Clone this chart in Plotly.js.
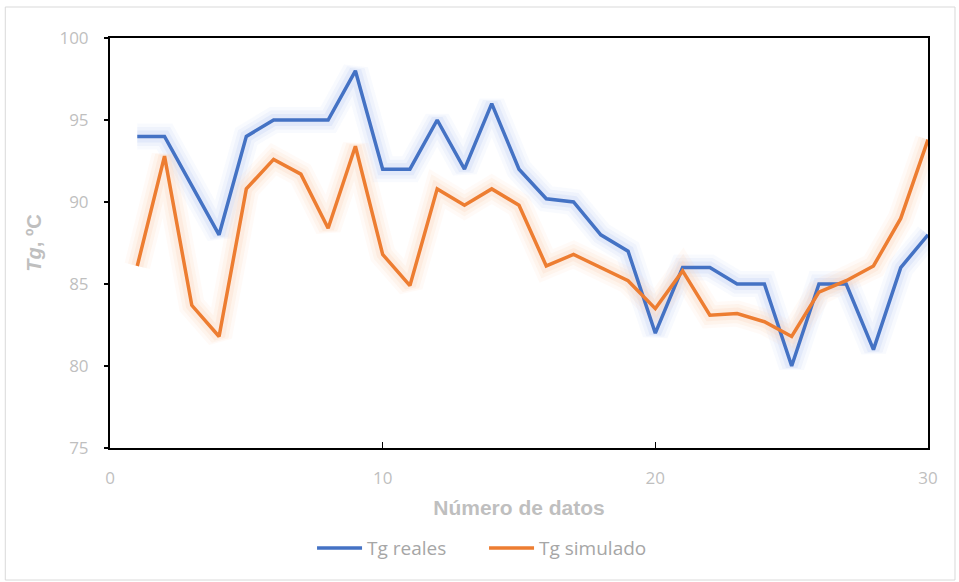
<!DOCTYPE html>
<html>
<head>
<meta charset="utf-8">
<script src="https://cdn.plot.ly/plotly-3.0.1.min.js"></script>
<style>html,body{margin:0;padding:0;background:#fff;}#chart{width:959px;height:582px;}</style>
</head>
<body>
<div id="chart"></div>
<script>
const xData = [1,2,3,4,5,6,7,8,9,10,11,12,13,14,15,16,17,18,19,20,21,22,23,24,25,26,27,28,29,30];
const tgReales = [94,94,91,88,94,95,95,95,98,92,92,95,92,96,92,90.2,90,88,87,82,86,86,85,85,80,85,85,81,86,88];
const tgSimulado = [86.1,92.8,83.7,81.8,90.8,92.6,91.7,88.4,93.4,86.8,84.9,90.8,89.8,90.8,89.8,86.1,86.8,86.0,85.2,83.5,85.8,83.1,83.2,82.7,81.8,84.5,85.2,86.1,89.0,93.8];
const seriesNames = ["Tg reales","Tg simulado"];
const xTicks = [0,10,20,30];
const yTicks = [75,80,85,90,95,100];

const blue = "#4472C4", orange = "#ED7D31";
const glow = (y, c, w, op) => ({x:xData, y:y, mode:"lines", line:{color:c, width:w}, opacity:op, showlegend:false, hoverinfo:"skip"});
const traces = [
  glow(tgReales, "#c5d5f5", 26, 0.12),
  glow(tgReales, "#c5d5f5", 19, 0.18),
  glow(tgReales, "#c5d5f5", 12, 0.3),
  glow(tgSimulado, "#fbd7bf", 26, 0.12),
  glow(tgSimulado, "#fbd7bf", 19, 0.18),
  glow(tgSimulado, "#fbd7bf", 12, 0.3),
  {x:xData, y:tgReales, name:seriesNames[0], mode:"lines", line:{color:blue, width:3.5}},
  {x:xData, y:tgSimulado, name:seriesNames[1], mode:"lines", line:{color:orange, width:3.5}}
];
const tickFont = {family:"Liberation Sans Narrow, Arial Narrow, Open Sans, sans-serif", size:17, color:"#bfbfbf"};
const layout = {
  width:959, height:582,
  margin:{l:110, r:31, t:38, b:134},
  paper_bgcolor:"#fff", plot_bgcolor:"#fff",
  showlegend:true,
  legend:{orientation:"h", x:0.247, xanchor:"left", y:-0.244, yanchor:"middle", entrywidth:112, entrywidthmode:"pixels",
    font:{family:"Open Sans, sans-serif", size:19, color:"#a6a6a6"}, itemwidth:45, tracegroupgap:0},
  xaxis:{range:[0,30], tickvals:xTicks, ticktext:xTicks.map(String), showgrid:false, zeroline:false,
    showline:true, linecolor:"#000", linewidth:2, mirror:true, ticks:"inside", ticklen:6, tickcolor:"#000", tickwidth:1.5,
    tickfont:tickFont, ticklabelstandoff:14,
    title:{text:"Número de datos", font:{family:"Liberation Sans, Arial, sans-serif", size:21, color:"#bfbfbf", weight:"bold"}, standoff:12}},
  yaxis:{range:[75,100], tickvals:yTicks, ticktext:yTicks.map(String), showgrid:false, zeroline:false,
    showline:true, linecolor:"#000", linewidth:2, mirror:true, ticks:"outside", ticklen:4, tickcolor:"#000", tickwidth:1.5,
    tickfont:tickFont, ticklabelstandoff:12,
    title:{text:"<i>Tg</i>, ºC", font:{family:"Liberation Sans, Arial, sans-serif", size:20, color:"#bfbfbf", weight:"bold"}, standoff:12}},
  shapes:[{type:"rect", xref:"paper", yref:"paper", x0:-0.128, x1:1.033, y0:-0.322, y1:1.0756, line:{color:"#d9d9d9", width:1}, layer:"below"}]
};
Plotly.newPlot("chart", traces, layout, {displayModeBar:false, staticPlot:true});
</script>
</body>
</html>
